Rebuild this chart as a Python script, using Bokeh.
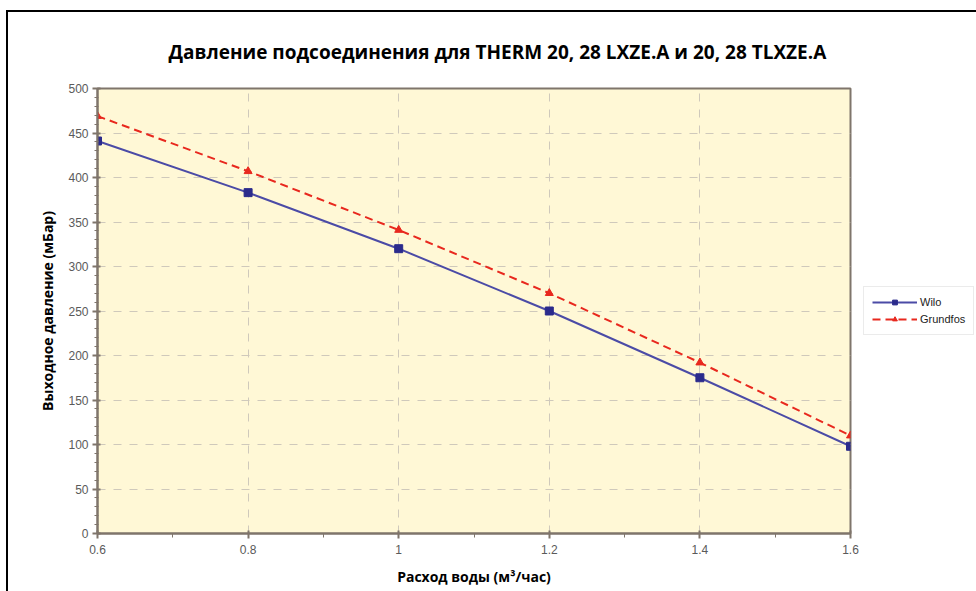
from bokeh.plotting import figure
from bokeh.layouts import row
from bokeh.models import FixedTicker, CustomJSTickFormatter, Title, Legend, LegendItem, Range1d
from bokeh.embed import file_html
from bokeh.resources import INLINE

# ---- data ----
flow = [0.6, 0.8, 1.0, 1.2, 1.4, 1.6]
wilo = [441, 383, 320, 250, 175, 98]
grundfos = [469, 407, 341, 270, 192, 110]

x_ticks = [0.6, 0.8, 1.0, 1.2, 1.4, 1.6]
x_minor = [0.7, 0.9, 1.1, 1.3, 1.5]
y_ticks = [0, 50, 100, 150, 200, 250, 300, 350, 400, 450, 500]
y_minor = [v for v in range(0, 501, 10)]

series_names = ["Wilo", "Grundfos"]
title_text = "Давление подсоединения для THERM 20, 28 LXZE.A и 20, 28 TLXZE.A"
x_label = "Расход воды (м³/час)"
y_label = "Выходное давление (мБар)"

wilo_line = "#4b4ba6"
wilo_mark = "#2b2b8c"
grund_col = "#e8281e"

p = figure(width=852, height=579, output_backend="svg", toolbar_location=None,
           x_range=(0.6, 1.6), y_range=(0, 500),
           min_border_left=89, min_border_right=10, min_border_top=76, min_border_bottom=58)

p.background_fill_color = "#fff8d6"
p.border_fill_color = "white"
p.outline_line_color = "#7f756b"
p.outline_line_width = 2

t = Title(text=title_text, align="left", offset=71, standoff=48,
          text_font="Open Sans", text_font_size="19px", text_font_style="bold",
          text_color="black")
p.add_layout(t, "above")

axis_color = "#7f756b"
for ax in (p.xaxis[0], p.yaxis[0]):
    ax.axis_line_color = axis_color
    ax.axis_line_width = 2
    ax.major_tick_line_color = axis_color
    ax.minor_tick_line_color = axis_color
    ax.major_tick_line_width = 2
    ax.minor_tick_line_width = 1
    ax.major_label_text_font = "Liberation Sans"
    ax.major_label_text_font_size = "12px"
    ax.major_label_text_color = "#5a5a5a"
    ax.axis_label_text_font = "Open Sans"
    ax.axis_label_text_font_size = "14px"
    ax.axis_label_text_font_style = "bold"
    ax.axis_label_text_color = "black"

p.xaxis.ticker = FixedTicker(ticks=x_ticks, minor_ticks=x_minor)
p.yaxis.ticker = FixedTicker(ticks=y_ticks, minor_ticks=y_minor)
p.xaxis.formatter = CustomJSTickFormatter(code="return String(Math.round(tick*10)/10);")
p.xaxis.axis_label = x_label
p.yaxis.axis_label = y_label
p.xaxis.major_tick_out = 5
p.xaxis.major_tick_in = 3
p.xaxis.minor_tick_out = 4
p.xaxis.minor_tick_in = 0
p.yaxis.major_tick_out = 5
p.yaxis.major_tick_in = 3
p.yaxis.minor_tick_out = 3
p.yaxis.minor_tick_in = 1
p.xaxis.major_label_standoff = 6
p.yaxis.major_label_standoff = 4
p.xaxis.axis_label_standoff = 10
p.yaxis.axis_label_standoff = 8

for g in (p.xgrid[0], p.ygrid[0]):
    g.grid_line_color = "#cfc9bb"
    g.grid_line_dash = "8 8"
    g.grid_line_width = 1

# series
p.line(flow, wilo, line_color=wilo_line, line_width=2)
p.scatter(flow, wilo, marker="square", size=8, fill_color=wilo_mark, line_color=wilo_mark)
p.line(flow, grundfos, line_color=grund_col, line_width=2, line_dash="8 5")
p.scatter(flow, grundfos, marker="triangle", size=8, fill_color=grund_col, line_color=grund_col)

# legend panel: a small figure whose ranges keep the series out of view,
# so that only its legend samples show
q = figure(width=116, height=579, output_backend="svg", toolbar_location=None,
           x_range=Range1d(0, 1), y_range=Range1d(0, 1),
           min_border_left=0, min_border_right=0, min_border_top=0, min_border_bottom=0)
q.axis.visible = False
q.grid.visible = False
q.outline_line_color = None
q.background_fill_color = "white"
q.border_fill_color = "white"
lw = q.line(flow, wilo, line_color=wilo_line, line_width=2)
sw = q.scatter(flow, wilo, marker="square", size=8, fill_color=wilo_mark, line_color=wilo_mark)
lg = q.line(flow, grundfos, line_color=grund_col, line_width=2, line_dash="8 5")
sg = q.scatter(flow, grundfos, marker="triangle", size=8, fill_color=grund_col, line_color=grund_col)

leg = Legend(items=[LegendItem(label=series_names[0], renderers=[lw, sw]),
                    LegendItem(label=series_names[1], renderers=[lg, sg])],
             location=(3, 198))
leg.border_line_color = "#d8d8d8"
leg.border_line_width = 1
leg.background_fill_color = "white"
leg.background_fill_alpha = 1
leg.label_text_font = "Liberation Sans"
leg.label_text_font_size = "11px"
leg.label_text_color = "#222222"
leg.glyph_width = 45
leg.glyph_height = 12
leg.label_height = 14
leg.label_standoff = 3
leg.spacing = 3
leg.padding = 8
leg.margin = 0
q.add_layout(leg, "center")

layout = row(p, q)
layout.styles = {"margin-left": "6px", "margin-top": "10px",
                 "border-top": "2px solid black", "border-left": "2px solid black"}

open("out.html", "w").write(file_html(layout, INLINE))
